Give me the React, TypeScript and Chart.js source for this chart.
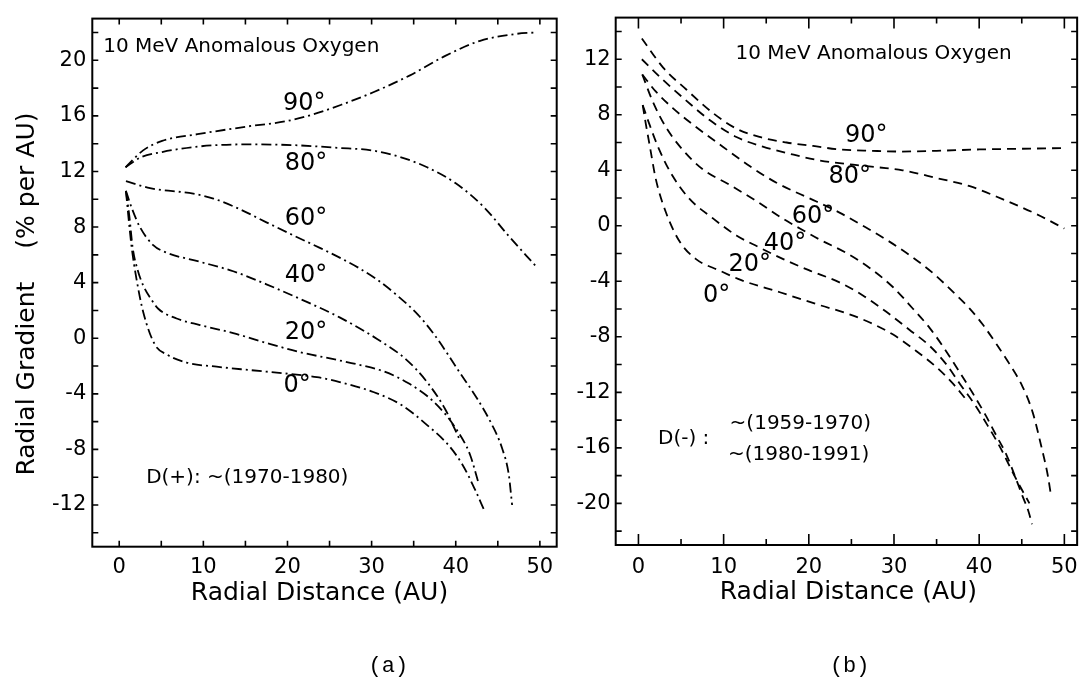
import React, { useEffect, useRef } from "react";
import { Chart, registerables } from "chart.js";

Chart.register(...registerables);

const FONT = "'DejaVu Sans', sans-serif";

// ---------- axis ticks ----------
const xLabelTicks = [0, 10, 20, 30, 40, 50];
const xMinorTicks = [5, 15, 25, 35, 45];
const yLabelTicksA = [-12, -8, -4, 0, 4, 8, 12, 16, 20];
const yMinorTicksA = [-14, -10, -6, -2, 2, 6, 10, 14, 18, 22];
const yLabelTicksB = [-20, -16, -12, -8, -4, 0, 4, 8, 12];
const yMinorTicksB = [-22, -18, -14, -10, -6, -2, 2, 6, 10, 14];

// ---------- panel (a): D(+) ----------
const a90X = [0.75, 2.8, 5.1, 9.5, 15.4, 19.7, 23, 26.4, 30.2, 34.5, 38.7, 42.9, 47.2, 49.5];
const a90Y = [12.3, 13.5, 14.2, 14.7, 15.25, 15.6, 16.1, 16.8, 17.7, 18.9, 20.3, 21.4, 21.9, 22.0];
const a80X = [0.75, 2.5, 5.1, 9.5, 15.4, 20.5, 26, 30.2, 33.6, 36.6, 40, 43.4, 46.3, 49.5];
const a80Y = [12.3, 13.0, 13.4, 13.8, 13.95, 13.9, 13.7, 13.5, 13.0, 12.3, 11.15, 9.4, 7.35, 5.2];
const a60X = [0.8, 3.66, 8.8, 11.2, 14.35, 17.5, 20.7, 23.85, 26.2, 28.5, 30.7, 33.0, 35.5, 37.4, 39.0, 40.4, 42.5, 44.2, 45.5, 46.3, 46.7];
const a60Y = [11.3, 10.8, 10.4, 10.05, 9.28, 8.34, 7.4, 6.5, 5.8, 5.05, 4.2, 3.1, 1.7, 0.3, -1.1, -2.4, -4.3, -6.1, -7.9, -9.8, -12.0];
const a40X = [0.8, 1.47, 2.46, 4.04, 5.63, 9.6, 13.55, 17.5, 21.5, 26.2, 30.7, 34.05, 36.6, 38.7, 40.4];
const a40Y = [10.6, 9.4, 8.0, 6.7, 6.16, 5.5, 4.82, 3.88, 2.83, 1.5, -0.07, -1.5, -3.16, -5.06, -7.2];
const a20X = [0.8, 1.2, 1.6, 2.2, 2.85, 3.8, 4.64, 6.82, 9.6, 13.55, 17.5, 21.5, 26.2, 28.1, 31.5, 34.5, 37.4, 40.0, 41.7, 42.7];
const a20Y = [10.6, 8.8, 6.5, 4.9, 3.8, 2.8, 2.12, 1.42, 0.95, 0.37, -0.34, -1.0, -1.6, -1.85, -2.4, -3.28, -4.58, -6.48, -8.38, -10.4];
const a0X = [0.8, 1.07, 1.47, 2.06, 2.85, 4.24, 5.63, 8.0, 11.58, 15.5, 19.5, 23.5, 26.2, 30.2, 33.6, 36.6, 39.1, 40.8, 42.3, 43.4];
const a0Y = [10.6, 8.9, 6.58, 4.24, 1.89, -0.46, -1.16, -1.75, -2.05, -2.29, -2.52, -2.8, -3.15, -3.87, -4.82, -6.25, -7.67, -9.1, -10.9, -12.4];

// ---------- panel (b): D(-) ----------
const b90X = [0.4, 2.9, 5.65, 8.8, 11.5, 14.2, 17.4, 20.5, 23.6, 27.5, 30.7, 35, 40, 45, 50];
const b90Y = [13.5, 11.4, 9.8, 8.1, 7.0, 6.4, 6.0, 5.75, 5.5, 5.4, 5.35, 5.4, 5.5, 5.55, 5.6];
const b80X = [0.4, 2.9, 5.65, 8.4, 11.5, 14.6, 17.7, 21.3, 25.2, 28.3, 31, 35, 38.9, 42.8, 46.7, 50];
const b80Y = [12.0, 10.5, 9.0, 7.6, 6.4, 5.7, 5.2, 4.7, 4.4, 4.2, 4.0, 3.44, 2.85, 1.9, 0.85, -0.2];
const b60X = [0.45, 2.0, 4.0, 6.8, 9.9, 13.05, 16.2, 18.55, 20.9, 23.6, 26.35, 29.1, 31.8, 34.56, 36.9, 38.86, 40.4, 42.0, 43.55, 45.1, 46.3, 47.27, 48.04, 48.44];
const b60Y = [10.9, 9.7, 8.5, 7.1, 5.7, 4.3, 3.1, 2.4, 1.75, 0.95, 0.0, -1.0, -2.1, -3.4, -4.75, -5.95, -7.1, -8.5, -9.95, -11.6, -13.48, -15.83, -17.94, -19.47];
const b40X = [0.45, 1.65, 3.2, 5.19, 7.55, 10.7, 13.8, 17.0, 19.7, 21.3, 24.4, 27.1, 29.9, 32.2, 34.2, 36.1, 37.7, 39.25, 40.8, 42.0, 43.2, 44.3, 45.1, 45.8, 46.2];
const b40Y = [10.9, 9.0, 7.13, 5.48, 4.07, 2.95, 1.8, 0.5, -0.45, -1.0, -1.96, -3.02, -4.43, -5.96, -7.37, -9.02, -10.54, -12.07, -13.7, -15.1, -16.5, -18.2, -19.5, -20.6, -21.5];
const b20X = [0.5, 1.26, 2.44, 4.0, 5.97, 8.73, 11.5, 14, 17, 20, 23.6, 26.35, 29.1, 31.8, 34.2, 36.1, 37.7, 39.5, 41, 42.5, 43.8, 45, 45.9];
const b20Y = [8.7, 7.36, 5.48, 3.6, 1.95, 0.54, -0.7, -1.5, -2.4, -3.2, -4.08, -5.02, -6.2, -7.49, -8.66, -9.95, -11.36, -12.9, -14.4, -16, -17.6, -19, -20.0];
const b0X = [0.5, 0.86, 1.34, 2.04, 3.2, 4.8, 6.76, 9.5, 12, 16.6, 21.3, 24.4, 27.1, 29.9, 32.6, 35, 36.9, 38.5];
const b0Y = [8.7, 7.36, 5.72, 3.36, 1.01, -1.1, -2.4, -3.22, -3.9, -4.79, -5.72, -6.3, -6.95, -7.84, -9.02, -10.2, -11.36, -12.54];

// ---------- text in data coordinates ----------
type Ann = { text: string; x: number; y: number; size: number; align: CanvasTextAlign };

const annA: Ann[] = [
  { text: "10 MeV Anomalous Oxygen", x: -1.9, y: 21.0, size: 20, align: "left" },
  { text: "90°", x: 22.0, y: 16.9, size: 24, align: "center" },
  { text: "80°", x: 22.2, y: 12.56, size: 24, align: "center" },
  { text: "60°", x: 22.2, y: 8.57, size: 24, align: "center" },
  { text: "40°", x: 22.2, y: 4.46, size: 24, align: "center" },
  { text: "20°", x: 22.2, y: 0.4, size: 24, align: "center" },
  { text: "0°", x: 21.15, y: -3.4, size: 24, align: "center" },
  { text: "D(+): ~(1970-1980)", x: 3.2, y: -10.05, size: 20, align: "left" },
];

const annB: Ann[] = [
  { text: "10 MeV Anomalous Oxygen", x: 11.4, y: 12.4, size: 20, align: "left" },
  { text: "90°", x: 26.75, y: 6.5, size: 24, align: "center" },
  { text: "80°", x: 24.8, y: 3.56, size: 24, align: "center" },
  { text: "60°", x: 20.5, y: 0.62, size: 24, align: "center" },
  { text: "40°", x: 17.2, y: -1.26, size: 24, align: "center" },
  { text: "20°", x: 13.07, y: -2.79, size: 24, align: "center" },
  { text: "0°", x: 9.17, y: -5.02, size: 24, align: "center" },
  { text: "D(-) :", x: 2.3, y: -15.34, size: 20, align: "left" },
  { text: "~(1959-1970)", x: 10.7, y: -14.27, size: 20, align: "left" },
  { text: "~(1980-1991)", x: 10.5, y: -16.5, size: 20, align: "left" },
];

type PanelCfg = {
  xMin: number; xMax: number; yMin: number; yMax: number;
  yLabels: number[]; yMinor: number[];
  series: [number[], number[]][];
  dash: number[];
  ann: Ann[];
  areaLeft: number; areaRight: number; areaTop: number; areaBottom: number;
  width: number; height: number;
  xPad: number; yPad: number;
  xMajorLen: number; xMinorLen: number; yLen: number;
  xTitleDx: number; xTitleDy: number;
  tag: string; tagDx: number; tagDy: number;
  yTitles: { text: string; dx: number; cy: number }[];
};

function makePlugin(cfg: PanelCfg) {
  return {
    id: "frameAndText",
    afterDraw(chart: any) {
      const { ctx, chartArea: a, scales } = chart;
      const xs = scales.x;
      const ys = scales.y;
      ctx.save();
      ctx.strokeStyle = "#000";
      ctx.fillStyle = "#000";
      ctx.lineWidth = 2;
      ctx.setLineDash([]);
      ctx.strokeRect(a.left, a.top, a.right - a.left, a.bottom - a.top);
      ctx.lineWidth = 1.6;
      const xTick = (v: number, len: number) => {
        const p = xs.getPixelForValue(v);
        ctx.beginPath();
        ctx.moveTo(p, a.bottom);
        ctx.lineTo(p, a.bottom - len);
        ctx.moveTo(p, a.top);
        ctx.lineTo(p, a.top + len);
        ctx.stroke();
      };
      const yTick = (v: number, len: number) => {
        const p = ys.getPixelForValue(v);
        ctx.beginPath();
        ctx.moveTo(a.left, p);
        ctx.lineTo(a.left + len, p);
        ctx.moveTo(a.right, p);
        ctx.lineTo(a.right - len, p);
        ctx.stroke();
      };
      xLabelTicks.forEach((v) => xTick(v, cfg.xMajorLen));
      xMinorTicks.forEach((v) => xTick(v, cfg.xMinorLen));
      cfg.yLabels.forEach((v) => yTick(v, cfg.yLen));
      cfg.yMinor.forEach((v) => yTick(v, cfg.yLen));

      ctx.textBaseline = "middle";
      for (const t of cfg.ann) {
        ctx.font = `${t.size}px ${FONT}`;
        ctx.textAlign = t.align;
        ctx.fillText(t.text, xs.getPixelForValue(t.x), ys.getPixelForValue(t.y));
      }
      ctx.font = `25px ${FONT}`;
      ctx.textAlign = "center";
      ctx.fillText("Radial Distance (AU)", (a.left + a.right) / 2 + cfg.xTitleDx, a.bottom + cfg.xTitleDy);
      for (const yt of cfg.yTitles) {
        ctx.save();
        ctx.translate(a.left + yt.dx, a.top + yt.cy);
        ctx.rotate(-Math.PI / 2);
        ctx.fillText(yt.text, 0, 0);
        ctx.restore();
      }
      ctx.font = `22px 'Liberation Mono', monospace`;
      ctx.fillText(cfg.tag, a.left + cfg.tagDx, a.bottom + cfg.tagDy);
      ctx.restore();
    },
  };
}

function Panel({ cfg, left }: { cfg: PanelCfg; left: number }) {
  const ref = useRef<HTMLCanvasElement | null>(null);
  useEffect(() => {
    if (!ref.current) return;
    const datasets = cfg.series.map(([xs, ys]) => ({
      data: xs.map((x, i) => ({ x, y: ys[i] })),
      borderColor: "#000",
      borderWidth: 1.8,
      borderDash: cfg.dash,
      pointRadius: 0,
      fill: false,
      cubicInterpolationMode: "monotone" as const,
    }));
    const tickFont = { family: FONT, size: 21 };
    const chart = new Chart(ref.current, {
      type: "line",
      data: { datasets },
      options: {
        animation: false,
        responsive: true,
        maintainAspectRatio: false,
        layout: {
          padding: { left: 0, top: cfg.areaTop, right: cfg.width - cfg.areaRight, bottom: 0 },
        },
        plugins: { legend: { display: false }, tooltip: { enabled: false } },
        scales: {
          x: {
            type: "linear",
            min: cfg.xMin,
            max: cfg.xMax,
            afterBuildTicks: (s: any) => {
              s.ticks = xLabelTicks.map((v) => ({ value: v }));
            },
            afterFit: (s: any) => {
              s.height = cfg.height - cfg.areaBottom;
            },
            grid: { display: false, drawTicks: false },
            border: { display: false },
            ticks: {
              font: tickFont,
              color: "#000",
              padding: cfg.xPad,
              autoSkip: false,
              maxRotation: 0,
              callback: (v: any) => String(v),
            },
          },
          y: {
            type: "linear",
            min: cfg.yMin,
            max: cfg.yMax,
            afterBuildTicks: (s: any) => {
              s.ticks = cfg.yLabels.map((v) => ({ value: v }));
            },
            afterFit: (s: any) => {
              s.width = cfg.areaLeft;
            },
            grid: { display: false, drawTicks: false },
            border: { display: false },
            ticks: {
              font: tickFont,
              color: "#000",
              padding: cfg.yPad,
              autoSkip: false,
              callback: (v: any) => String(v),
            },
          },
        },
      },
      plugins: [makePlugin(cfg)],
    });
    return () => chart.destroy();
  }, [cfg]);
  return (
    <div style={{ position: "absolute", left, top: 0, width: cfg.width, height: cfg.height }}>
      <canvas ref={ref} />
    </div>
  );
}

const cfgA: PanelCfg = {
  xMin: -3.2, xMax: 52.0, yMin: -15, yMax: 23,
  yLabels: yLabelTicksA, yMinor: yMinorTicksA,
  series: [[a90X, a90Y], [a80X, a80Y], [a60X, a60Y], [a40X, a40Y], [a20X, a20Y], [a0X, a0Y]],
  dash: [10, 4, 2, 4],
  ann: annA,
  areaLeft: 92.3, areaRight: 556.7, areaTop: 6.7, areaBottom: 546.7,
  width: 575, height: 687,
  xPad: 8, yPad: 6,
  xMajorLen: 6, xMinorLen: 6, yLen: 6,
  xTitleDx: -5, xTitleDy: 47,
  tag: "(a)", tagDx: 296, tagDy: 119,
  yTitles: [
    { text: "Radial Gradient", dx: -65, cy: 360 },
    { text: "(% per AU)", dx: -65, cy: 162 },
  ],
};

const cfgB: PanelCfg = {
  xMin: -2.67, xMax: 51.5, yMin: -23, yMax: 15,
  yLabels: yLabelTicksB, yMinor: yMinorTicksB,
  series: [[b90X, b90Y], [b80X, b80Y], [b60X, b60Y], [b40X, b40Y], [b20X, b20Y], [b0X, b0Y]],
  dash: [9, 6],
  ann: annB,
  areaLeft: 55.7, areaRight: 518, areaTop: 6, areaBottom: 545,
  width: 528, height: 687,
  xPad: 10, yPad: 5,
  xMajorLen: 11, xMinorLen: 6, yLen: 6,
  xTitleDx: 2, xTitleDy: 47,
  tag: "(b)", tagDx: 234, tagDy: 121,
  yTitles: [],
};

export default function App() {
  return (
    <div style={{ position: "absolute", left: 0, top: 0, width: 1088, height: 687, background: "#fff", overflow: "hidden" }}>
      <Panel cfg={cfgA} left={0} />
      <Panel cfg={cfgB} left={560} />
    </div>
  );
}
